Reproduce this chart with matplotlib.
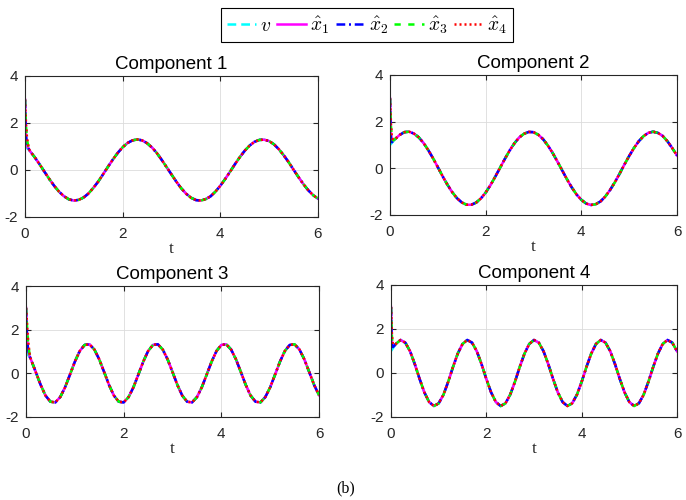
import numpy as np
import matplotlib
matplotlib.use("Agg")
import matplotlib.pyplot as plt

plt.rcParams['font.family'] = ['Liberation Sans', 'DejaVu Sans']
plt.rcParams['mathtext.fontset'] = 'cm'
plt.rcParams['axes.unicode_minus'] = False

# time grid for the true signal v (step 0.1 s) and the short initial transient of the estimates
t = np.round(np.arange(0, 6.05, 0.1), 2)
t_tr = [0.0, 0.01, 0.02, 0.04, 0.07]

titles = ["Component 1", "Component 2", "Component 3", "Component 4"]
labels = [r"$v$", r"$\hat{x}_1$", r"$\hat{x}_2$", r"$\hat{x}_3$", r"$\hat{x}_4$"]
xticks = [0, 2, 4, 6]
yticks = [-2, 0, 2, 4]

c1_v = [1.03, 0.81, 0.54, 0.24, -0.08, -0.39, -0.68, -0.93, -1.12, -1.25,
        -1.30, -1.27, -1.17, -1.00, -0.76, -0.49, -0.18, 0.14, 0.45, 0.73,
        0.97, 1.15, 1.26, 1.30, 1.26, 1.14, 0.96, 0.72, 0.43, 0.12,
        -0.19, -0.50, -0.78, -1.01, -1.18, -1.28, -1.30, -1.24, -1.12, -0.92,
        -0.67, -0.38, -0.07, 0.25, 0.55, 0.82, 1.04, 1.20, 1.28, 1.29,
        1.23, 1.09, 0.88, 0.62, 0.33, 0.01, -0.30, -0.60, -0.86, -1.07,
        -1.22]
c2_v = [1.00, 1.24, 1.43, 1.55, 1.57, 1.49, 1.33, 1.09, 0.78, 0.43,
        0.05, -0.34, -0.70, -1.02, -1.28, -1.46, -1.56, -1.56, -1.47, -1.29,
        -1.04, -0.72, -0.36, 0.02, 0.40, 0.76, 1.07, 1.32, 1.48, 1.56,
        1.55, 1.44, 1.25, 0.98, 0.66, 0.29, -0.09, -0.47, -0.82, -1.12,
        -1.35, -1.51, -1.57, -1.54, -1.42, -1.21, -0.93, -0.60, -0.23, 0.16,
        0.53, 0.87, 1.16, 1.38, 1.52, 1.57, 1.52, 1.39, 1.16, 0.87,
        0.55]
c3_v = [1.02, 0.64, 0.06, -0.53, -1.02, -1.30, -1.33, -1.09, -0.64, -0.06,
        0.53, 1.02, 1.30, 1.33, 1.09, 0.64, 0.06, -0.53, -1.02, -1.30,
        -1.33, -1.09, -0.64, -0.06, 0.53, 1.02, 1.30, 1.33, 1.09, 0.64,
        0.06, -0.53, -1.02, -1.30, -1.33, -1.09, -0.64, -0.06, 0.53, 1.02,
        1.30, 1.33, 1.09, 0.64, 0.06, -0.53, -1.02, -1.30, -1.33, -1.09,
        -0.64, -0.06, 0.53, 1.02, 1.30, 1.33, 1.09, 0.64, 0.06, -0.53,
        -1.00]
c4_v = [1.00, 1.32, 1.50, 1.38, 0.99, 0.40, -0.27, -0.88, -1.32, -1.50,
        -1.38, -0.99, -0.40, 0.27, 0.88, 1.32, 1.50, 1.38, 0.99, 0.40,
        -0.27, -0.88, -1.32, -1.50, -1.38, -0.99, -0.40, 0.27, 0.88, 1.32,
        1.50, 1.38, 0.99, 0.40, -0.27, -0.88, -1.32, -1.50, -1.38, -0.99,
        -0.40, 0.27, 0.88, 1.32, 1.50, 1.38, 0.99, 0.40, -0.27, -0.88,
        -1.32, -1.50, -1.38, -0.99, -0.40, 0.27, 0.88, 1.32, 1.50, 1.38,
        0.99]

# initial transients of the four estimates (x1..x4) at times t_tr
c1_init = [[3.0, 2.0, 1.4, 1.05, 0.92],
           [3.0, 2.1, 1.5, 1.10, 0.93],
           [3.0, 2.4, 1.9, 1.30, 0.98],
           [3.0, 2.5, 2.0, 1.40, 1.00]]
c2_init = [[3.0, 2.2, 1.5, 1.15, 1.20],
           [3.0, 2.0, 1.3, 1.12, 1.18],
           [3.0, 2.4, 1.8, 1.25, 1.20],
           [3.0, 2.5, 1.9, 1.30, 1.22]]
c3_init = [[3.0, 2.3, 1.7, 1.10, 0.80],
           [3.0, 2.4, 1.8, 1.15, 0.82],
           [3.0, 2.6, 2.2, 1.50, 0.90],
           [3.0, 2.7, 2.3, 1.60, 0.95]]
c4_init = [[3.0, 2.0, 1.30, 1.20, 1.25],
           [3.0, 1.9, 1.25, 1.18, 1.24],
           [3.0, 2.3, 1.60, 1.25, 1.27],
           [3.0, 2.4, 1.70, 1.30, 1.28]]

comps_v = [c1_v, c2_v, c3_v, c4_v]
comps_init = [c1_init, c2_init, c3_init, c4_init]

styles = [dict(color=(0, 1, 1), ls=(0, (3.5, 2))),
          dict(color=(1, 0, 1), ls='-'),
          dict(color=(0, 0, 1), ls=(0, (3.5, 1.5, 0.8, 1.5))),
          dict(color=(0, 1, 0), ls=(0, (2.5, 3))),
          dict(color=(1, 0, 0), ls=(0, (0.8, 1.2)))]

W, H = 686, 500
fig = plt.figure(figsize=(W / 100, H / 100), dpi=100)

# axes boxes in pixels: left, top, right, bottom
boxes = [(25, 76, 318, 217), (390, 75, 677, 215),
         (26, 286, 319, 417), (391, 285, 677, 417)]

axc = '#262626'
handles = None
for i, (l, tp, r, b) in enumerate(boxes):
    ax = fig.add_axes([l / W, 1 - b / H, (r - l) / W, (b - tp) / H])
    v = comps_v[i]
    hs = []
    hs.append(ax.plot(t, v, lw=1.8, **styles[0])[0])
    for k in range(4):
        xs = list(t_tr) + list(t[1:])
        ys = list(comps_init[i][k]) + list(v[1:])
        hs.append(ax.plot(xs, ys, lw=1.8, **styles[k + 1])[0])
    if handles is None:
        handles = hs
    ax.set_xlim(0, 6)
    ax.set_ylim(-2, 4)
    ax.set_xticks(xticks)
    ax.set_yticks(yticks)
    ax.grid(True, color='#dcdcdc', lw=0.6)
    ax.set_axisbelow(True)
    ax.tick_params(direction='in', top=True, right=True, length=3.5, width=0.8,
                   labelsize=11, colors=axc)
    ax.tick_params(axis='x', pad=7)
    ax.tick_params(axis='y', pad=5)
    for s in ax.spines.values():
        s.set_color(axc)
        s.set_linewidth(0.8)
    ax.set_title(titles[i], fontsize=13.5, pad=5, color='k')
    ax.set_xlabel('t', family=['Liberation Serif', 'DejaVu Serif'], fontsize=12.5,
                  labelpad=0, color=axc)

leg = fig.legend(handles, labels, loc='center', bbox_to_anchor=(367 / W, 1 - 25 / H),
                 ncol=5, fontsize=14, handlelength=1.5, handletextpad=0.2,
                 columnspacing=0.3, borderpad=0.3, borderaxespad=0.2, frameon=True,
                 fancybox=False, edgecolor='k', framealpha=1)
leg.get_frame().set_linewidth(0.8)

fig.text(346 / W, 1 - 488 / H, '(b)', ha='center', va='center',
         family=['Liberation Serif', 'DejaVu Serif'], fontsize=11.5)

fig.savefig('out.png', dpi=100)
